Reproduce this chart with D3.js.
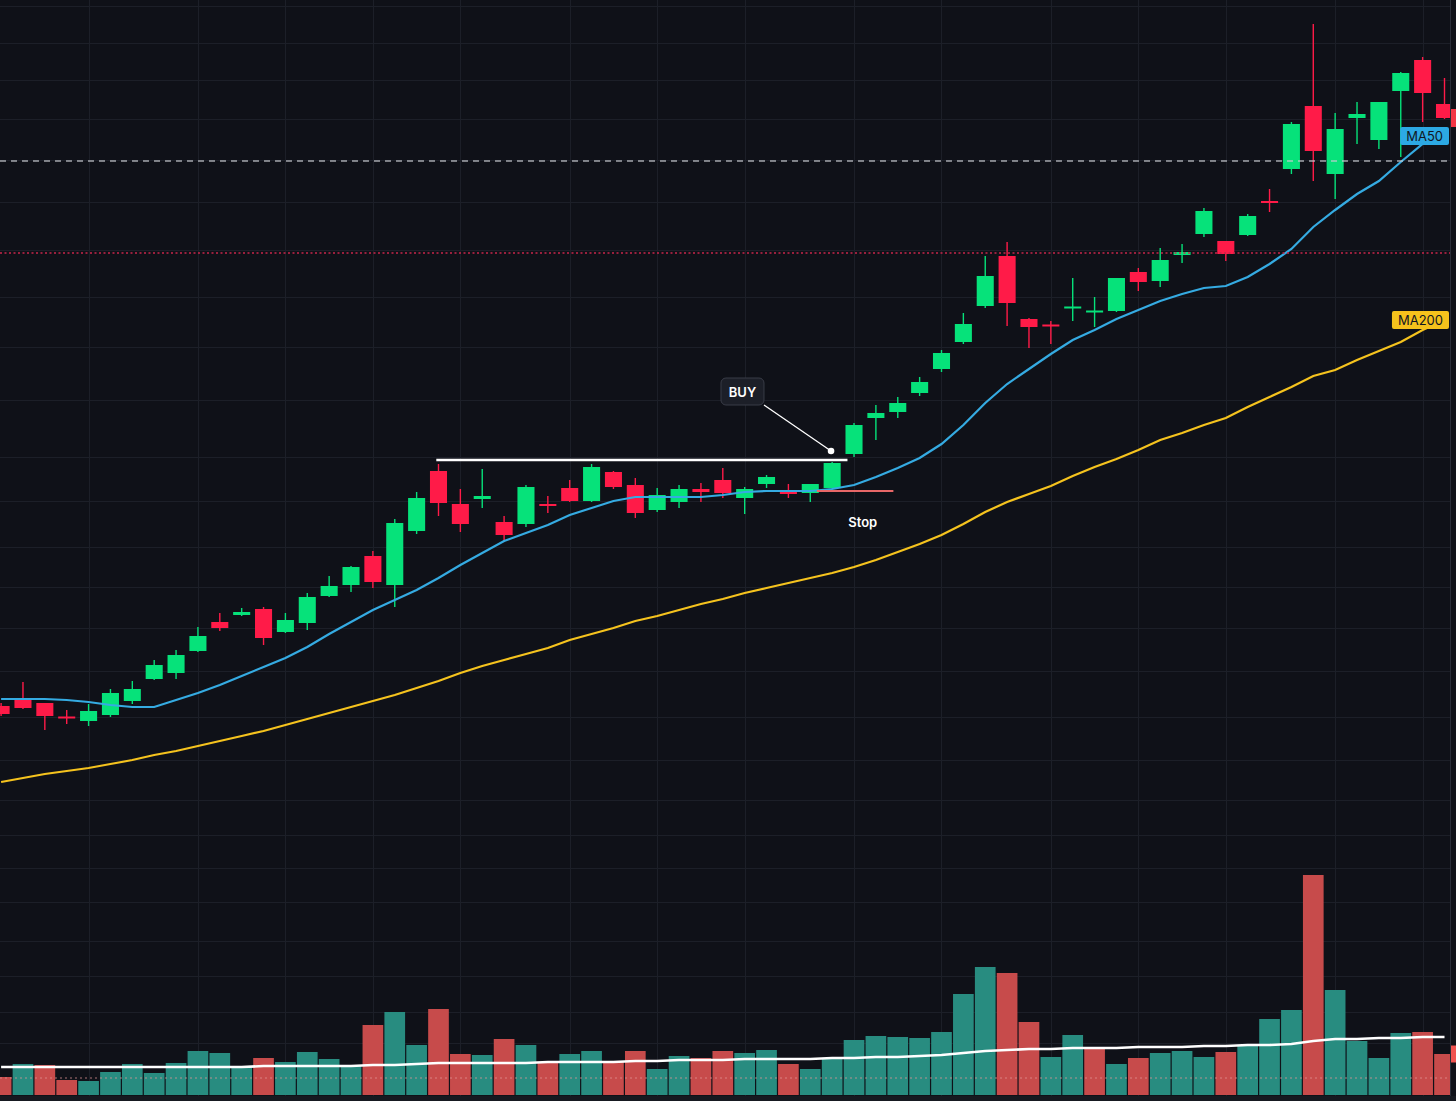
<!DOCTYPE html>
<html>
<head>
<meta charset="utf-8">
<script src="https://cdn.jsdelivr.net/npm/d3@7"></script>
<style>
  html, body { margin: 0; padding: 0; background: #0f1118; overflow: hidden; }
  svg { display: block; }
  text { font-family: Inter, "Noto Sans", "DejaVu Sans", sans-serif; }
</style>
</head>
<body>
<svg id="chart" width="1456" height="1101"></svg>
<script>
// daily candles (price units)
const opens  = [39.4, 40.0, 39.7, 38.3, 37.9, 38.5, 39.9, 42.1, 42.7, 44.9, 47.8, 48.5, 49.1, 46.8, 47.7, 50.4, 51.5, 54.4, 51.5, 56.9,
                62.9, 59.6, 60.1, 57.8, 57.6, 59.6, 61.2, 59.9, 62.8, 61.5, 59.0, 59.8, 61.1, 62.0, 60.2, 61.6, 60.9, 60.7, 61.2, 64.6,
                68.2, 68.8, 70.7, 73.1, 75.8, 79.4, 84.4, 78.1, 77.5, 79.2, 78.8, 78.9, 82.8, 81.9, 84.5, 86.6, 85.9, 86.5, 89.9, 93.1,
                99.4, 92.6, 98.2, 96.0, 100.9, 104.0, 99.6]
const highs  = [39.7, 41.8, 39.7, 39.0, 39.6, 41.1, 41.9, 44.0, 45.0, 47.3, 48.7, 49.2, 49.3, 48.7, 50.7, 52.4, 53.4, 54.9, 58.1, 60.8,
                63.6, 61.1, 63.1, 58.4, 61.5, 60.4, 62.0, 63.6, 62.9, 62.2, 61.2, 61.5, 61.7, 63.2, 61.3, 62.5, 61.6, 61.6, 63.8, 67.7,
                69.5, 70.3, 72.3, 75.0, 78.7, 84.4, 85.8, 78.2, 77.9, 82.2, 80.3, 82.2, 83.2, 85.2, 85.6, 89.2, 85.9, 88.6, 91.1, 97.8,
                107.6, 98.7, 99.8, 99.8, 102.8, 104.3, 102.2]
const lows   = [38.4, 39.1, 37.0, 37.6, 37.4, 38.3, 39.6, 42.0, 42.1, 44.8, 46.9, 48.4, 45.5, 46.7, 47.0, 50.3, 50.8, 51.2, 49.3, 56.6,
                58.4, 56.8, 59.2, 55.8, 57.3, 58.7, 59.8, 59.8, 61.1, 58.2, 58.8, 59.2, 59.8, 60.2, 58.6, 61.2, 60.2, 59.8, 61.1, 64.3,
                66.0, 68.2, 70.4, 72.8, 75.6, 79.2, 77.4, 75.2, 75.6, 77.9, 77.3, 78.8, 80.9, 81.3, 83.7, 86.3, 83.9, 86.4, 88.8, 92.6,
                91.9, 90.1, 95.6, 95.1, 94.3, 97.8, 98.1]
const closes = [38.6, 39.2, 38.4, 38.2, 38.9, 40.7, 41.1, 43.5, 44.5, 46.4, 47.2, 48.8, 46.2, 48.0, 50.3, 51.4, 53.3, 51.8, 57.7, 60.2,
                59.7, 57.6, 60.4, 56.5, 61.3, 59.4, 59.9, 63.3, 61.3, 58.7, 60.5, 61.1, 60.8, 60.7, 61.1, 62.3, 60.6, 61.6, 63.7, 67.5,
                68.7, 69.7, 71.8, 74.7, 77.6, 82.4, 79.7, 77.3, 77.4, 79.3, 78.9, 82.2, 81.8, 84.0, 84.8, 88.9, 84.6, 88.4, 89.7, 97.6,
                94.9, 97.1, 98.6, 99.8, 102.7, 100.7, 98.2]

const ma50  = [40.1, 40.1, 40.1, 40.0, 39.8, 39.5, 39.3, 39.3, 40.0, 40.7, 41.5, 42.4, 43.3, 44.2, 45.3, 46.6, 47.8, 49.0, 50.0, 51.0,
               52.2, 53.5, 54.7, 55.9, 56.7, 57.5, 58.5, 59.2, 59.9, 60.3, 60.3, 60.3, 60.3, 60.5, 60.8, 60.9, 60.9, 60.9, 61.1, 61.5,
               62.3, 63.2, 64.2, 65.6, 67.5, 69.7, 71.6, 73.1, 74.6, 76.0, 77.0, 78.1, 79.0, 79.9, 80.6, 81.2, 81.4, 82.3, 83.6, 85.1,
               87.3, 89.0, 90.6, 91.9, 93.8, 95.6, 97.0]
const ma200 = [31.8, 32.2, 32.6, 32.9, 33.2, 33.6, 34.0, 34.5, 34.9, 35.4, 35.9, 36.4, 36.9, 37.5, 38.1, 38.7, 39.3, 39.9, 40.5, 41.2,
               41.9, 42.7, 43.4, 44.0, 44.6, 45.2, 46.0, 46.6, 47.2, 47.9, 48.4, 49.0, 49.6, 50.1, 50.7, 51.2, 51.7, 52.2, 52.7, 53.3,
               54.0, 54.8, 55.6, 56.5, 57.6, 58.8, 59.8, 60.6, 61.4, 62.4, 63.3, 64.1, 65.0, 66.0, 66.7, 67.5, 68.2, 69.3, 70.3, 71.3,
               72.4, 73.0, 74.0, 74.9, 75.8, 77.0, 78.0]

// volume in millions, colour flag per bar, and its moving average
const volumes = [1.8, 3.1, 3.0, 1.5, 1.4, 2.3, 3.1, 2.2, 3.2, 4.4, 4.2, 2.9, 3.7, 3.3, 4.3, 3.6, 2.9, 7.0, 8.3, 5.0,
                 8.6, 4.1, 4.0, 5.6, 5.0, 3.2, 4.1, 4.4, 3.4, 4.4, 2.6, 3.9, 3.7, 4.4, 4.2, 4.5, 3.1, 2.6, 3.6, 5.5,
                 5.9, 5.8, 5.7, 6.3, 10.1, 12.8, 12.2, 7.3, 3.8, 6.0, 4.6, 3.1, 3.7, 4.2, 4.4, 3.8, 4.3, 4.9, 7.6, 8.5,
                 22.0, 10.5, 5.4, 3.7, 6.2, 6.3, 4.1]
const volDir = ['d','u','d','d','u','u','u','u','u','u', 'u','u','d','u','u','u','u','d','u','u',
                'd','d','u','d','u','d','u','u','d','d', 'u','u','d','d','u','u','d','u','u','u',
                'u','u','u','u','u','u','d','d','u','u', 'd','u','d','u','u','u','d','u','u','u',
                'd','u','u','u','u','d','d']
const volMA = [2.8, 2.8, 2.8, 2.8, 2.8, 2.8, 2.8, 2.8, 2.8, 2.8, 2.8, 2.8, 2.9, 2.9, 2.9, 2.9, 2.9, 3.0, 3.0, 3.1,
               3.2, 3.2, 3.2, 3.2, 3.2, 3.3, 3.3, 3.3, 3.3, 3.4, 3.4, 3.5, 3.5, 3.5, 3.6, 3.6, 3.6, 3.6, 3.7, 3.7,
               3.8, 3.8, 3.9, 4.0, 4.2, 4.4, 4.5, 4.6, 4.6, 4.7, 4.7, 4.7, 4.8, 4.8, 4.8, 4.9, 4.9, 5.0, 5.0, 5.1,
               5.4, 5.6, 5.6, 5.7, 5.7, 5.8, 5.8]

// grid
const gridPrices = [109.4, 105.7, 102.0, 98.1, 94.0, 89.8, 85.0, 80.3, 75.3, 70.0, 64.3, 59.9, 55.3, 51.3, 47.2, 42.9,
                    38.3, 34.0, 30.0, 26.5, 23.2, 19.8, 15.9, 12.4, 8.8, 5.7]
const gridBars = [4, 9, 13, 17, 21, 26, 30, 34, 39, 43, 48, 52, 56, 61, 65]

// drawings (bar index, price)
const resistance = {from: 19.9, to: 38.7, price: 64.0}
const stopLine = {from: 37.3, to: 40.8, price: 60.9}
const stopLabel = {bar: 39.4, price: 57.8, text: 'Stop'}
const buyNote = {bar: 33.9, price: 70.85, text: 'BUY', pointBar: 37.95, pointPrice: 64.9}
const dashedPrice = 93.9
const dottedPrice = 84.7
const volDotted = 1.7
const maLabels = [
  {text: 'MA50', price: 96.4, fill: '#2ca9e4'},
  {text: 'MA200', price: 78.0, fill: '#f6c21c'}
]

const W = 1456, H = 1101, plotRight = 1450
const upColor = '#06e27a', downColor = '#ff1b48'

const svg = d3.select('#chart')
const n = closes.length
const x = d3.scaleLinear().domain([0, n - 1]).range([1.1, 1444.5])
const step = x(1) - x(0)
const y = d3.scaleLinear().domain([0, 110]).range([1100, 0])
const yVol = d3.scaleLinear().domain([0, 22]).range([1095, 875])

svg.append('rect').attr('width', W).attr('height', H).attr('fill', '#0f1118')
svg.append('rect').attr('x', 0).attr('y', 1096).attr('width', W).attr('height', 5).attr('fill', '#161920')

svg.append('defs').append('clipPath').attr('id', 'plot')
  .append('rect').attr('x', 0).attr('y', 0).attr('width', plotRight).attr('height', 1096)

const plot = svg.append('g').attr('clip-path', 'url(#plot)')

// grid lines
plot.append('g').selectAll('line').data(gridPrices).join('line')
  .attr('x1', 0).attr('x2', plotRight)
  .attr('y1', d => Math.round(y(d)) + 0.5).attr('y2', d => Math.round(y(d)) + 0.5)
  .attr('stroke', '#1c1f28').attr('stroke-width', 1)
plot.append('g').selectAll('line').data(gridBars).join('line')
  .attr('x1', d => Math.round(x(d)) + 0.5).attr('x2', d => Math.round(x(d)) + 0.5)
  .attr('y1', 0).attr('y2', 1096)
  .attr('stroke', '#1c1f28').attr('stroke-width', 1)

// volume
plot.append('g').selectAll('rect').data(volumes).join('rect')
  .attr('x', (d, i) => x(i) - step / 2 + 0.6)
  .attr('width', step - 1.2)
  .attr('y', d => yVol(d))
  .attr('height', d => yVol(0) - yVol(d))
  .attr('fill', (d, i) => volDir[i] === 'u' ? '#288c80' : '#c74b4b')

plot.append('line')
  .attr('x1', 0).attr('x2', plotRight)
  .attr('y1', yVol(volDotted)).attr('y2', yVol(volDotted))
  .attr('stroke', 'rgba(225,150,150,0.5)').attr('stroke-width', 1.5)
  .attr('stroke-dasharray', '2,3')

const volLine = d3.line().x((d, i) => x(i)).y(d => yVol(d))
plot.append('path').datum(volMA)
  .attr('d', volLine)
  .attr('fill', 'none').attr('stroke', '#ffffff').attr('stroke-width', 2.6)

// candles
const bodyW = step * 0.78
const candles = plot.append('g').selectAll('g').data(closes).join('g')
  .attr('fill', (d, i) => d >= opens[i] ? upColor : downColor)
  .attr('stroke', (d, i) => d >= opens[i] ? upColor : downColor)
candles.append('line')
  .attr('x1', (d, i) => x(i)).attr('x2', (d, i) => x(i))
  .attr('y1', (d, i) => y(highs[i])).attr('y2', (d, i) => y(lows[i]))
  .attr('stroke-width', 1.4)
candles.append('rect')
  .attr('stroke', 'none')
  .attr('x', (d, i) => x(i) - bodyW / 2)
  .attr('width', bodyW)
  .attr('y', (d, i) => {
    const top = y(Math.max(d, opens[i])), h = Math.abs(y(d) - y(opens[i]))
    return h < 2 ? (top + h / 2 - 1) : top
  })
  .attr('height', (d, i) => Math.max(2, Math.abs(y(d) - y(opens[i]))))

// moving averages
const priceLine = d3.line().x((d, i) => x(i)).y(d => y(d))
plot.append('path').datum(ma200)
  .attr('d', priceLine).attr('fill', 'none')
  .attr('stroke', '#f5c31e').attr('stroke-width', 2.2)
plot.append('path').datum(ma50)
  .attr('d', priceLine).attr('fill', 'none')
  .attr('stroke', '#35abe2').attr('stroke-width', 2.2)

// horizontal levels
plot.append('line')
  .attr('x1', 0).attr('x2', plotRight)
  .attr('y1', y(dashedPrice)).attr('y2', y(dashedPrice))
  .attr('stroke', 'rgba(200,202,208,0.8)').attr('stroke-width', 1.3)
  .attr('stroke-dasharray', '6,5')
plot.append('line')
  .attr('x1', 0).attr('x2', plotRight)
  .attr('y1', y(dottedPrice)).attr('y2', y(dottedPrice))
  .attr('stroke', '#c8264a').attr('stroke-width', 1.3)
  .attr('stroke-dasharray', '2,2.5')

// trade drawings
plot.append('line')
  .attr('x1', x(resistance.from)).attr('x2', x(resistance.to))
  .attr('y1', y(resistance.price)).attr('y2', y(resistance.price))
  .attr('stroke', '#ffffff').attr('stroke-width', 2.5)
plot.append('line')
  .attr('x1', x(stopLine.from)).attr('x2', x(stopLine.to))
  .attr('y1', y(stopLine.price)).attr('y2', y(stopLine.price))
  .attr('stroke', '#e86767').attr('stroke-width', 2)
plot.append('text')
  .attr('x', x(stopLabel.bar)).attr('y', y(stopLabel.price))
  .attr('text-anchor', 'middle').attr('dominant-baseline', 'central')
  .attr('fill', '#ffffff').attr('font-size', 13).attr('font-weight', 600)
  .text(stopLabel.text)

const bx = x(buyNote.bar), by = y(buyNote.price), bw = 43, bh = 27
plot.append('line')
  .attr('x1', bx + bw / 2).attr('y1', by + bh / 2)
  .attr('x2', x(buyNote.pointBar)).attr('y2', y(buyNote.pointPrice))
  .attr('stroke', '#ffffff').attr('stroke-width', 1.3)
plot.append('circle')
  .attr('cx', x(buyNote.pointBar)).attr('cy', y(buyNote.pointPrice)).attr('r', 3.3)
  .attr('fill', '#ffffff')
plot.append('rect')
  .attr('x', bx - bw / 2).attr('y', by - bh / 2).attr('width', bw).attr('height', bh)
  .attr('rx', 5).attr('fill', '#1c1f28').attr('stroke', '#393c47').attr('stroke-width', 1)
plot.append('text')
  .attr('x', bx).attr('y', by)
  .attr('text-anchor', 'middle').attr('dominant-baseline', 'central')
  .attr('fill', '#ffffff').attr('font-size', 13).attr('font-weight', 600)
  .text(buyNote.text)

// MA tags at the right edge
maLabels.forEach(l => {
  const g = svg.append('g')
  const t = g.append('text')
    .attr('y', y(l.price)).attr('dominant-baseline', 'central')
    .attr('text-anchor', 'middle').attr('font-size', 13)
    .attr('fill', '#111622').text(l.text)
  const w = t.node().getComputedTextLength() + 12
  t.attr('x', plotRight - 1 - w / 2)
  g.insert('rect', 'text')
    .attr('x', plotRight - 1 - w).attr('y', y(l.price) - 9)
    .attr('width', w).attr('height', 18).attr('rx', 2)
    .attr('fill', l.fill)
})

// price axis edge with last-value tags
svg.append('line')
  .attr('x1', plotRight + 0.5).attr('x2', plotRight + 0.5).attr('y1', 0).attr('y2', 1096)
  .attr('stroke', '#2a2e39')
svg.append('rect')
  .attr('x', plotRight + 1).attr('y', y(closes[n - 1]) - 9).attr('width', 40).attr('height', 18)
  .attr('fill', '#f23645')
svg.append('rect')
  .attr('x', plotRight + 1).attr('y', yVol(volumes[n - 1]) - 8.5).attr('width', 40).attr('height', 17)
  .attr('fill', '#ef5350')
</script>
</body>
</html>
